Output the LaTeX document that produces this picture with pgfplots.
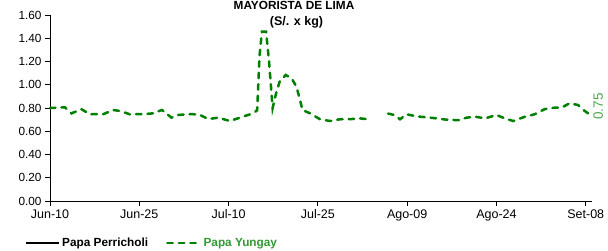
\documentclass[border=0pt]{standalone}
\usepackage{fontspec}
\setmainfont{Liberation Sans}
\usepackage{pgfplots}
\usepackage{pgfplotstable}
\pgfplotsset{compat=1.18}
\definecolor{yline}{RGB}{0,128,0}
\definecolor{ytext}{RGB}{51,153,51}
\definecolor{ylabel}{RGB}{76,166,76}

\pgfplotstableread{
day val
0 0.800
2.5 0.806
3.6 0.754
5.3 0.789
6.7 0.746
9.0 0.748
10.6 0.783
11.8 0.774
13.4 0.746
16.0 0.748
17.3 0.754
18.8 0.783
20.4 0.717
21.5 0.740
23.8 0.748
25.2 0.740
26.6 0.705
28.3 0.717
30.2 0.688
31.9 0.717
34.1 0.754
34.8 0.780
35.2 1.250
35.6 1.456
36.3 1.456
36.8 1.200
37.4 0.800
38.0 0.930
38.6 1.030
39.6 1.084
40.6 1.055
41.4 0.983
42.0 0.870
42.4 0.783
43.7 0.754
45.3 0.705
47.0 0.688
48.7 0.703
50.7 0.705
52.0 0.711
53.5 0.703
55.0 nan
56.8 0.752
57.8 0.740
58.8 0.703
59.9 0.746
61.6 0.728
63.3 0.720
64.9 0.711
66.5 0.700
68.6 0.695
70.0 0.717
71.4 0.725
73.1 0.711
75.0 0.740
76.4 0.711
77.8 0.688
79.8 0.725
81.4 0.746
83.1 0.790
84.8 0.803
85.9 0.803
87.3 0.840
88.7 0.826
89.6 0.783
90.4 0.754
}\yungay

\begin{document}
\begin{tikzpicture}
\path[use as bounding box] (-50pt,-50pt) rectangle (558pt,201pt);
\begin{axis}[
  at={(0pt,0pt)}, anchor=south west,
  scale only axis, width=541.7pt, height=186pt,
  xmin=0, xmax=91, ymin=0, ymax=1.6,
  axis x line*=bottom, axis y line*=left,
  axis line style={black, line width=0.8pt, -},
  xtick={0,15,30,45,60,75,90},
  xticklabels={Jun-10,Jun-25,Jul-10,Jul-25,Ago-09,Ago-24,Set-08},
  ytick={0,0.2,...,1.61},
  yticklabel style={/pgf/number format/.cd, fixed, fixed zerofill, precision=2, assume math mode=true},
  tick label style={font=\fontsize{11.8}{13}\selectfont},
  xticklabel style={font=\fontsize{12.5}{14}\selectfont},
  tick align=outside, major tick length=5pt,
  tick style={black, line width=0.8pt},
  unbounded coords=jump,
  clip=false,
  legend image code/.code={\draw[#1] (0pt,0pt) -- (33pt,0pt);},
  legend columns=2,
  legend cell align=left,
  legend style={at={(axis description cs:-0.0462,-0.225)}, anchor=west, draw=none, fill=none, inner sep=0pt,
    font=\bfseries\fontsize{11.8}{14}\selectfont,
    /tikz/every even column/.append style={column sep=16pt}},
]
\addlegendimage{black, solid, line width=2pt}
\addlegendentry{Papa Perricholi}
\addplot[yline, line width=2.5pt, line cap=round, dash pattern=on 5.5pt off 6pt] table[x=day, y=val] {\yungay};
\addlegendentry{\textcolor{ytext}{Papa Yungay}}
\node[rotate=90, text=ylabel, font=\fontsize{13.5}{15}\selectfont] at (axis cs:92.1,0.814) {0.75};
\end{axis}
\node[anchor=base, font=\bfseries\fontsize{11.8}{13}\selectfont] at (244pt,191pt) {MAYORISTA DE LIMA};
\node[anchor=base, font=\bfseries\fontsize{12.5}{14}\selectfont] at (246.5pt,175pt) {(S/. x kg)};
\end{tikzpicture}
\end{document}
